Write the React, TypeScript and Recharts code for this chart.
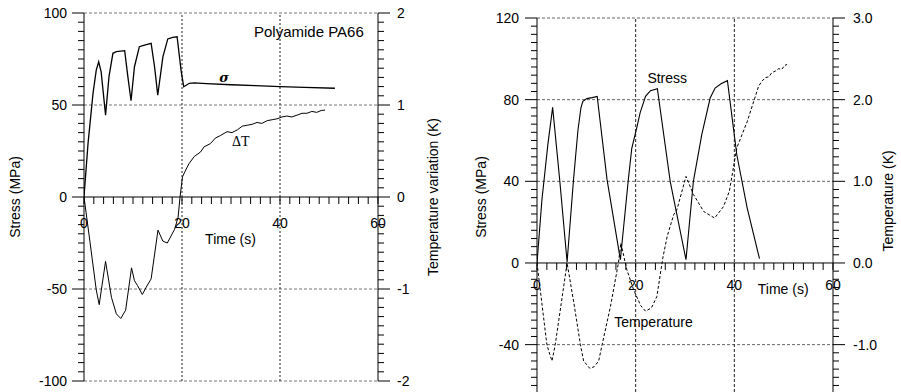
import { LineChart, Line, XAxis, YAxis, ReferenceLine, ReferenceDot } from 'recharts'

// Left panel (Polyamide PA66): stress in MPa, temperature variation in K
const paStressTime = [0, 0.82, 1.84, 2.5, 3.0, 3.5, 4.4, 5.1, 5.9, 6.6, 8.3, 8.95, 9.6, 10.3, 11.3, 12.35, 13.7, 14.4, 15.05, 16.1, 17.1, 18.1, 19.0, 19.8, 20.35, 21.5, 22.5, 25, 30, 35, 40, 45, 51.2]
const paStressMPa = [0, 29, 56.3, 69, 73.5, 68, 44.5, 65.4, 78.1, 79, 79.5, 65.4, 52.3, 70.8, 81.7, 82.6, 83.5, 70.8, 55.4, 76.2, 85.9, 86.8, 87.1, 69, 59.9, 61.8, 62.0, 61.6, 61.0, 60.5, 60.0, 59.6, 59.1]

const paDeltaTime = [0, 1.2, 2.5, 3.1, 4.4, 5.6, 6.6, 7.5, 8.5, 9.7, 10.3, 10.9, 11.9, 12.7, 13.7, 15.1, 16.1, 17.0, 18.5, 19.2, 19.6, 20.1, 20.55, 21.4, 22.5, 23.8, 24.5, 25.8, 26.8, 27.9, 29.2, 30.2, 31.3, 32.3, 33.3, 34.3, 35.3, 36.3, 37.4, 38.4, 39.4, 40.4, 41.4, 42.4, 43.5, 44.5, 45.5, 46.5, 47.5, 48.4, 49.2]
const paDeltaK = [0, -0.48, -1.01, -1.17, -0.7, -1.09, -1.27, -1.32, -1.23, -0.77, -0.91, -0.96, -1.06, -0.98, -0.89, -0.36, -0.48, -0.5, -0.35, -0.22, 0, 0.22, 0.27, 0.36, 0.44, 0.49, 0.545, 0.58, 0.64, 0.67, 0.71, 0.7, 0.73, 0.77, 0.78, 0.79, 0.81, 0.8, 0.83, 0.84, 0.85, 0.87, 0.88, 0.87, 0.89, 0.91, 0.91, 0.93, 0.92, 0.94, 0.945]

// Right panel: cyclic stress and temperature
const cycStressTime = [0, 1.0, 2.2, 3.17, 4.6, 6.1, 7.4, 8.3, 8.9, 9.3, 10.1, 11.2, 12.2, 14.2, 16.9, 18.5, 19.2, 20.3, 20.9, 22.0, 23.0, 24.4, 27.0, 30.2, 31.7, 33.4, 35.1, 36.1, 37.3, 38.6, 40.5, 42.6, 45.1]
const cycStressMPa = [0, 31, 58, 76.2, 40.8, 0.5, 40.8, 65, 76, 79.2, 80.5, 81.0, 81.6, 40.8, 1.6, 40.5, 56, 67, 73.5, 81.6, 84.4, 85.4, 40, 1.6, 40, 62.9, 80.8, 85.7, 87.8, 89.3, 53, 27, 2.1]

const cycTempTime = [0, 1.0, 2.0, 2.6, 3.04, 3.7, 4.9, 6.1, 7.5, 8.8, 9.45, 10.7, 11.6, 12.5, 13.2, 14.9, 16.5, 17.0, 18.2, 19.6, 21.0, 22.0, 23.2, 24.3, 25.5, 26.4, 27.7, 28.4, 29.3, 30.2, 31.7, 33.8, 36.0, 37.8, 39.0, 39.9, 40.5, 42.6, 44.9, 45.5, 46.3, 47.0, 47.6, 48.3, 49.0, 49.6, 50.2, 50.7]
const cycTempK = [0, -0.5, -1.0, -1.12, -1.2, -1.0, -0.5, 0, -0.5, -1.0, -1.2, -1.29, -1.27, -1.2, -1.0, -0.53, 0, 0.245, -0.08, -0.33, -0.52, -0.59, -0.55, -0.41, 0.06, 0.33, 0.59, 0.66, 0.86, 1.06, 0.84, 0.63, 0.55, 0.69, 0.88, 1.2, 1.41, 1.73, 2.16, 2.22, 2.27, 2.28, 2.33, 2.35, 2.38, 2.37, 2.42, 2.43]

const timeLabels = [0, 20, 40, 60]
const timeGrid = [20, 40]
const leftStressLabels = [-100, -50, 0, 50, 100]
const leftStressGrid = [100, 50, -50, -100]
const leftTempLabels = [-2, -1, 0, 1, 2]
const rightStressLabels = [-40, 0, 40, 80, 120]
const rightStressGrid = [120, 80, 40, -40]
const rightTempLabels = [-1, 0, 1, 2, 3]

const FONT = 'Liberation Sans, Arial, Helvetica, sans-serif'

const pairs = (ts: number[], vs: number[]) => ts.map((t, i) => ({ t, v: vs[i] }))

const steps = (lo: number, hi: number, step: number) =>
  Array.from({ length: Math.round((hi - lo) / step) + 1 }, (_, i) => +(lo + i * step).toFixed(4))

const timeMinor = steps(0, 60, 2)

function makeTick(side: 'left' | 'right', labels: number[], fmt: (v: number) => string, gap: number) {
  return (props: any) => {
    const { x, y, payload } = props
    const v = payload.value
    const major = labels.some((l) => Math.abs(l - v) < 1e-6)
    const len = major ? 12 : 6
    const dir = side === 'left' ? -1 : 1
    return (
      <g>
        <line x1={x} x2={x + dir * len} y1={y} y2={y} stroke="#000" strokeWidth={1} />
        {major && (
          <text
            x={x + dir * (len + gap)}
            y={y}
            dy="0.35em"
            textAnchor={side === 'left' ? 'end' : 'start'}
            fontSize={14}
            fontFamily={FONT}
            fill="#000"
          >
            {fmt(v)}
          </text>
        )}
      </g>
    )
  }
}

const note = (value: string, extra: any = {}) => ({
  value,
  position: 'center',
  fontSize: 14,
  fontFamily: FONT,
  fill: '#000',
  ...extra,
})

type PanelSpec = {
  width: number
  height: number
  margin: { top: number; right: number; bottom: number; left: number }
  sDomain: [number, number]
  sTicks: number[]
  sWidth: number
  tDomain: [number, number]
  tTicks: number[]
  tWidth: number
}

const leftSpec: PanelSpec = {
  width: 450,
  height: 392,
  margin: { top: 13, right: 0, bottom: 11, left: 0 },
  sDomain: [-100, 100],
  sTicks: steps(-100, 100, 5),
  sWidth: 84,
  tDomain: [-2, 2],
  tTicks: steps(-2, 2, 0.1),
  tWidth: 72,
}

const rightSpec: PanelSpec = {
  width: 451,
  height: 392,
  margin: { top: 18, right: 0, bottom: 0, left: 0 },
  sDomain: [-63.2, 120],
  sTicks: steps(-60, 120, 4),
  sWidth: 87,
  tDomain: [-1.58, 3],
  tTicks: steps(-1.5, 3, 0.1),
  tWidth: 68,
}

// bare axes used by the content layer: same space, nothing drawn
function QuietAxes(spec: PanelSpec) {
  return [
    <XAxis key="x" type="number" dataKey="t" domain={[0, 60]} hide allowDataOverflow />,
    <YAxis key="s" yAxisId="s" type="number" domain={spec.sDomain} width={spec.sWidth} tick={false} tickLine={false} axisLine={false} allowDataOverflow />,
    <YAxis key="t" yAxisId="t" orientation="right" type="number" domain={spec.tDomain} width={spec.tWidth} tick={false} tickLine={false} axisLine={false} allowDataOverflow />,
  ]
}

// axis frame layer: axes with ticks, the zero line with its comb and time labels
function Frame({ spec, sTick, tTick, combLen, labelOffset }: { spec: PanelSpec; sTick: any; tTick: any; combLen: number; labelOffset: number }) {
  return (
    <LineChart width={spec.width} height={spec.height} margin={spec.margin}>
      <XAxis type="number" dataKey="t" domain={[0, 60]} hide allowDataOverflow />
      <YAxis yAxisId="s" type="number" domain={spec.sDomain} ticks={spec.sTicks} interval={0} width={spec.sWidth}
        tickSize={0} tickMargin={0} tickLine={false} axisLine={{ stroke: '#000' }} tick={sTick} allowDataOverflow />
      <YAxis yAxisId="t" orientation="right" type="number" domain={spec.tDomain} ticks={spec.tTicks} interval={0} width={spec.tWidth}
        tickSize={0} tickMargin={0} tickLine={false} axisLine={{ stroke: '#000' }} tick={tTick} allowDataOverflow />
      <ReferenceLine yAxisId="s" y={0} stroke="#000" />
      {timeMinor.map((t) => (
        <ReferenceLine key={'k' + t} yAxisId="s" segment={[{ x: t, y: 0 }, { x: t, y: -combLen }]} stroke="#000" strokeWidth={1} />
      ))}
      {timeLabels.map((t) => (
        <ReferenceDot key={'l' + t} yAxisId="s" x={t} y={0} r={0} fill="none" stroke="none"
          label={{ value: String(t), position: 'bottom', offset: labelOffset, fontSize: 14, fontFamily: FONT, fill: '#000' }} />
      ))}
    </LineChart>
  )
}

function LeftContent() {
  const spec = leftSpec
  return (
    <LineChart width={spec.width} height={spec.height} margin={spec.margin}>
      {QuietAxes(spec)}
      {leftStressGrid.map((g) => (
        <ReferenceLine key={'h' + g} yAxisId="s" y={g} stroke="#777" strokeDasharray="3 2" />
      ))}
      {timeGrid.map((g) => (
        <ReferenceLine key={'v' + g} yAxisId="s" x={g} stroke="#222" strokeDasharray="2 2" />
      ))}

      <Line yAxisId="s" data={pairs(paStressTime, paStressMPa)} dataKey="v" type="linear" stroke="#000" strokeWidth={1.3} dot={false} isAnimationActive={false} />
      <Line yAxisId="t" data={pairs(paDeltaTime, paDeltaK)} dataKey="v" type="linear" stroke="#000" strokeWidth={1} dot={false} isAnimationActive={false} />

      <ReferenceDot yAxisId="s" x={45.9} y={89.7} r={0} fill="none" stroke="none" label={note('Polyamide PA66', { fontSize: 15 })} />
      <ReferenceDot yAxisId="s" x={28.6} y={65} r={0} fill="none" stroke="none" label={note('σ', { fontFamily: 'DejaVu Serif, serif', fontStyle: 'italic', fontWeight: 'bold', fontSize: 13 })} />
      <ReferenceDot yAxisId="s" x={32} y={30.5} r={0} fill="none" stroke="none" label={note('ΔT', { fontFamily: 'Liberation Serif, serif', fontSize: 14 })} />
      <ReferenceDot yAxisId="s" x={29.9} y={-22.8} r={0} fill="none" stroke="none" label={note('Time (s)')} />

      <ReferenceDot yAxisId="s" x={-14.1} y={0} r={0} fill="none" stroke="none" ifOverflow="visible" label={note('Stress (MPa)', { angle: -90 })} />
      <ReferenceDot yAxisId="s" x={71.2} y={0} r={0} fill="none" stroke="none" ifOverflow="visible" label={note('Temperature variation (K)', { angle: -90 })} />
    </LineChart>
  )
}

function RightContent() {
  const spec = rightSpec
  return (
    <LineChart width={spec.width} height={spec.height} margin={spec.margin}>
      {QuietAxes(spec)}
      {rightStressGrid.map((g) => (
        <ReferenceLine key={'h' + g} yAxisId="s" y={g} stroke="#666" strokeDasharray="3 2" />
      ))}
      {timeGrid.map((g) => (
        <ReferenceLine key={'v' + g} yAxisId="s" x={g} stroke="#222" strokeDasharray="3 2" />
      ))}

      <Line yAxisId="s" data={pairs(cycStressTime, cycStressMPa)} dataKey="v" type="linear" stroke="#000" strokeWidth={1.1} dot={false} isAnimationActive={false} />
      <Line yAxisId="t" data={pairs(cycTempTime, cycTempK)} dataKey="v" type="linear" stroke="#000" strokeWidth={1} strokeDasharray="3 2" dot={false} isAnimationActive={false} />

      <ReferenceDot yAxisId="s" x={26.4} y={90.6} r={0} fill="none" stroke="none" label={note('Stress')} />
      <ReferenceDot yAxisId="s" x={23.6} y={-28.7} r={0} fill="none" stroke="none" label={note('Temperature')} />
      <ReferenceDot yAxisId="s" x={49.9} y={-12.6} r={0} fill="none" stroke="none" label={note('Time (s)')} />

      <ReferenceDot yAxisId="s" x={-11.35} y={32.3} r={0} fill="none" stroke="none" ifOverflow="visible" label={note('Stress (MPa)', { angle: -90 })} />
      <ReferenceDot yAxisId="s" x={71.15} y={30.4} r={0} fill="none" stroke="none" ifOverflow="visible" label={note('Temperature (K)', { angle: -90 })} />
    </LineChart>
  )
}

const layer = (left: number) => ({ position: 'absolute' as const, left, top: 0 })

export default function App() {
  return (
    <div style={{ position: 'absolute', left: 0, top: 0, width: 901, height: 392, background: '#fff' }}>
      <div style={layer(0)}>
        <LeftContent />
      </div>
      <div style={layer(0)}>
        <Frame
          spec={leftSpec}
          sTick={makeTick('left', leftStressLabels, (v) => String(v), 5)}
          tTick={makeTick('right', leftTempLabels, (v) => String(Math.round(v)), 7)}
          combLen={3.8}
          labelOffset={21}
        />
      </div>
      <div style={layer(450)}>
        <RightContent />
      </div>
      <div style={layer(450)}>
        <Frame
          spec={rightSpec}
          sTick={makeTick('left', rightStressLabels, (v) => String(v), 6)}
          tTick={makeTick('right', rightTempLabels, (v) => v.toFixed(1), 8)}
          combLen={3.4}
          labelOffset={17}
        />
      </div>
    </div>
  )
}
